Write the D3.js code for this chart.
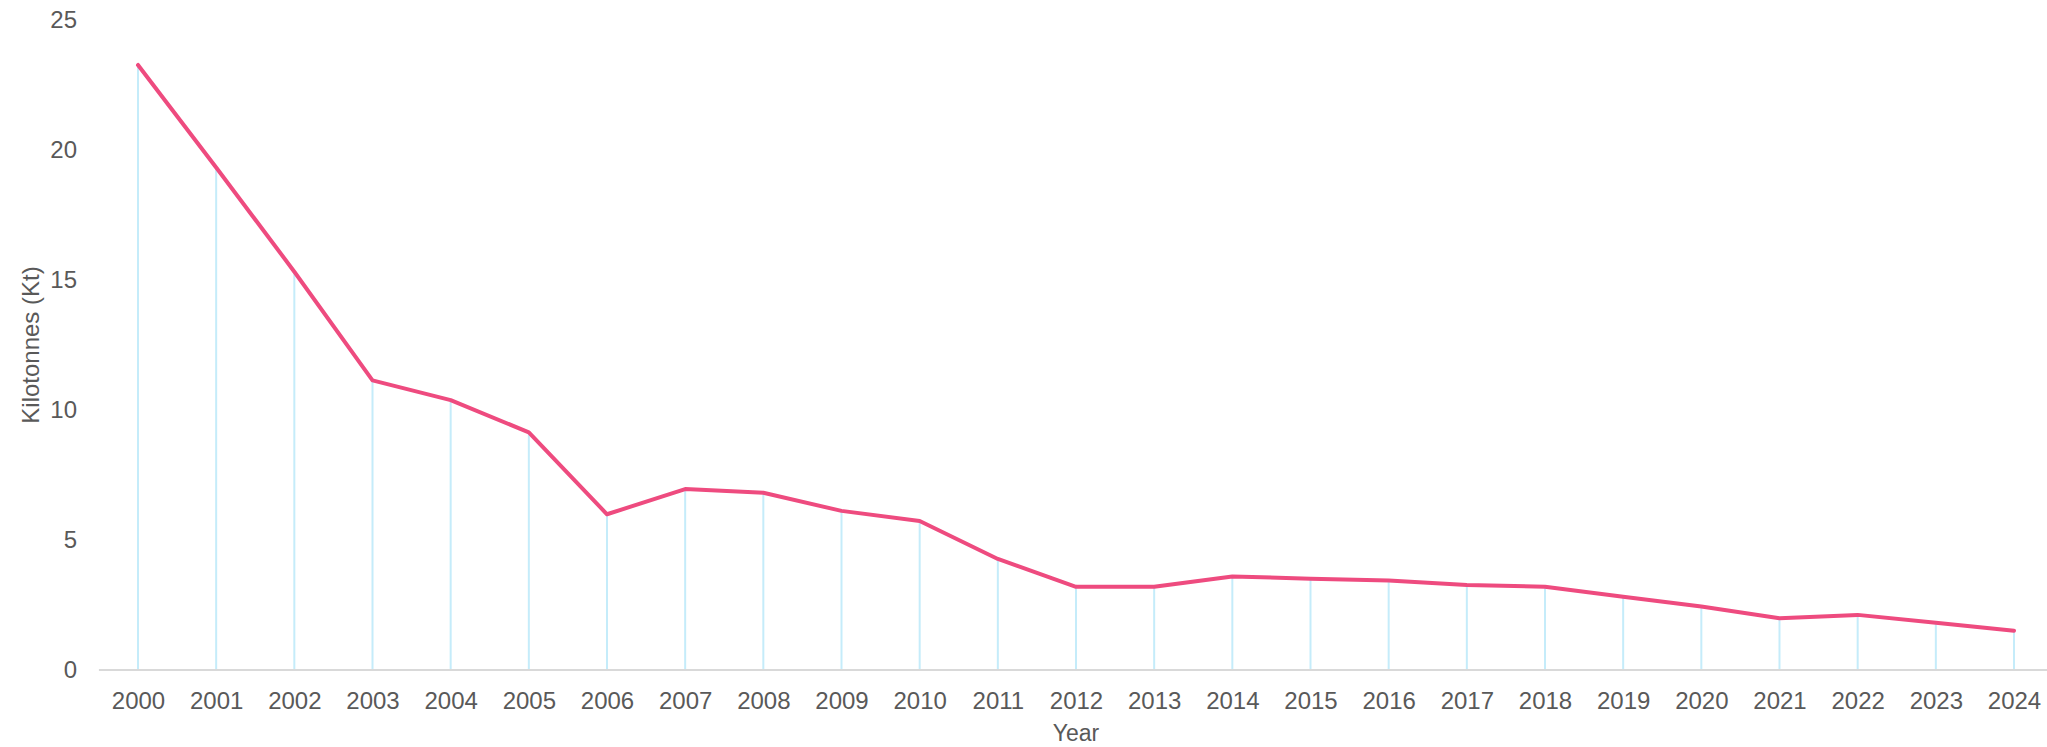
<!DOCTYPE html>
<html>
<head>
<meta charset="utf-8">
<script src="https://cdn.jsdelivr.net/npm/d3@7"></script>
<style>
  body { margin: 0; background: #fff; }
  svg text { font-family: "Liberation Sans", Arial, sans-serif; fill: #595959; }
</style>
</head>
<body>
<div id="graph"></div>
<script>
const years = [2000, 2001, 2002, 2003, 2004, 2005, 2006, 2007, 2008, 2009, 2010, 2011, 2012,
  2013, 2014, 2015, 2016, 2017, 2018, 2019, 2020, 2021, 2022, 2023, 2024]
const kilotonnes = [23.27, 19.33, 15.32, 11.14, 10.38, 9.14, 5.99, 6.96, 6.82, 6.12, 5.73, 4.27, 3.2,
  3.2, 3.6, 3.51, 3.44, 3.27, 3.2, 2.82, 2.44, 1.99, 2.12, 1.82, 1.51]
const yTicks = [0, 5, 10, 15, 20, 25]

const width = 2047
const height = 747

const data = years.map((y, i) => ({ year: y, value: kilotonnes[i] }))

const svg = d3.select('#graph')
  .append('svg')
  .attr('width', width)
  .attr('height', height)

const xScale = d3.scalePoint().domain(years).range([138, 2014])
const yScale = d3.scaleLinear().domain([0, 25]).range([670, 20])
const step = xScale.step()

// drop lines from each point down to zero
svg.selectAll('.drop')
  .data(data)
  .enter()
  .append('line')
  .attr('class', 'drop')
  .attr('x1', d => xScale(d.year))
  .attr('x2', d => xScale(d.year))
  .attr('y1', d => yScale(d.value))
  .attr('y2', yScale(0))
  .attr('stroke', '#C5ECFA')
  .attr('stroke-width', 2)

// baseline
svg.append('line')
  .attr('x1', xScale(years[0]) - step / 2)
  .attr('x2', xScale(years[years.length - 1]) + step / 2)
  .attr('y1', yScale(0))
  .attr('y2', yScale(0))
  .attr('stroke', '#D9D9D9')
  .attr('stroke-width', 2)

const xAxis = d3.axisBottom(xScale).tickSize(0).tickPadding(22)
svg.append('g')
  .attr('transform', `translate(0,${yScale(0)})`)
  .call(xAxis)
  .call(g => g.select('.domain').remove())
  .selectAll('text')
  .style('font-size', '24px')

const yAxis = d3.axisLeft(yScale).tickValues(yTicks).tickSize(0).tickPadding(21)
svg.append('g')
  .attr('transform', 'translate(98,0)')
  .call(yAxis)
  .call(g => g.select('.domain').remove())
  .selectAll('text')
  .style('font-size', '24px')

const line = d3.line()
  .x(d => xScale(d.year))
  .y(d => yScale(d.value))

svg.append('path')
  .datum(data)
  .attr('d', line)
  .attr('fill', 'none')
  .attr('stroke', '#EE4B7F')
  .attr('stroke-width', 4)
  .attr('stroke-linejoin', 'round')
  .attr('stroke-linecap', 'round')

// axis titles
svg.append('text')
  .attr('x', (xScale(years[0]) + xScale(years[years.length - 1])) / 2)
  .attr('y', 741)
  .attr('text-anchor', 'middle')
  .style('font-size', '23px')
  .text('Year')

svg.append('text')
  .attr('transform', `translate(39,${(yScale(0) + yScale(25)) / 2}) rotate(-90)`)
  .attr('text-anchor', 'middle')
  .style('font-size', '24px')
  .text('Kilotonnes (Kt)')
</script>
</body>
</html>
